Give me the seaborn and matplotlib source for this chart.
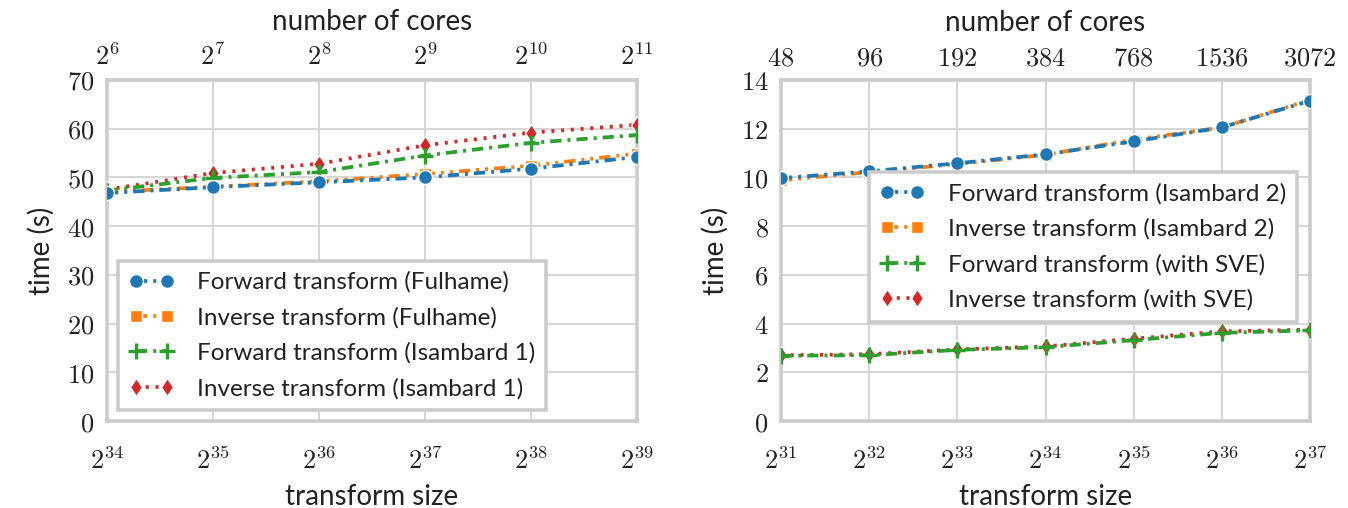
import numpy as np
import pandas as pd
import matplotlib
matplotlib.use("Agg")
import matplotlib.pyplot as plt
import seaborn as sns

# ---------------- data ----------------
left_exp = [34, 35, 36, 37, 38, 39]
left_cores = ["$2^{6}$", "$2^{7}$", "$2^{8}$", "$2^{9}$", "$2^{10}$", "$2^{11}$"]
fwd_fulhame = [46.8, 48.0, 49.0, 50.0, 51.8, 54.2]
inv_fulhame = [47.0, 48.1, 49.2, 50.7, 52.4, 54.9]
fwd_isambard1 = [47.3, 49.9, 51.1, 54.5, 57.1, 58.7]
inv_isambard1 = [47.5, 50.9, 52.8, 56.6, 59.2, 60.8]

right_exp = [31, 32, 33, 34, 35, 36, 37]
right_cores = ["$48$", "$96$", "$192$", "$384$", "$768$", "$1536$", "$3072$"]
fwd_isambard2 = [9.97, 10.25, 10.58, 10.95, 11.48, 12.05, 13.15]
inv_isambard2 = [9.88, 10.22, 10.55, 10.93, 11.55, 12.05, 13.18]
fwd_sve = [2.68, 2.70, 2.92, 3.03, 3.32, 3.62, 3.72]
inv_sve = [2.70, 2.74, 2.94, 3.06, 3.38, 3.68, 3.75]

left_labels = ["Forward transform (Fulhame)", "Inverse transform (Fulhame)",
               "Forward transform (Isambard 1)", "Inverse transform (Isambard 1)"]
right_labels = ["Forward transform (Isambard 2)", "Inverse transform (Isambard 2)",
                "Forward transform (with SVE)", "Inverse transform (with SVE)"]

# ---------------- style ----------------
sns.set_theme(style="whitegrid")
plt.rcParams["font.family"] = ["Lato", "DejaVu Sans"]
plt.rcParams["mathtext.fontset"] = "cm"

colors = sns.color_palette("tab10")[:4]
markers = ["o", "s", "+", "d"]
linestyles = [(0, (3.0, 1.6, 0.8, 1.6)), (0, (3.0, 1.6, 0.8, 1.6, 0.8, 1.6)),
              (0, (3.0, 1.6, 0.8, 1.6)), (0, (0.8, 1.8))]
msizes = [10, 8.5, 11, 9.5]

fig = plt.figure(figsize=(13.48, 5.08), dpi=100)
axL = fig.add_axes([107/1348, 87/508, 530/1348, 341/508])
axR = fig.add_axes([781/1348, 87/508, 529/1348, 341/508])

spine_c = "#cccccc"
txt_c = "#222222"


def draw(ax, exps, series, labels, ylim, yticks, cores, legend_loc):
    xs = [2.0 ** e for e in exps]
    handles = [None] * 4
    for i in reversed(range(4)):
        df = pd.DataFrame({"x": xs, "y": series[i]})
        mec = colors[i] if markers[i] == "+" else "white"
        sns.lineplot(data=df, x="x", y="y", ax=ax, color=colors[i],
                     marker=markers[i], markersize=msizes[i], linewidth=2.7,
                     markeredgecolor=mec, markeredgewidth=(2.4 if markers[i] == "+" else 1.0),
                     label=labels[i], zorder=3 + (4 - i), clip_on=True)
    lines = ax.get_lines()
    for i, ln in zip(reversed(range(4)), lines[:4]):
        ln.set_linestyle(linestyles[i])
        handles[i] = ln
    ax.set_xscale("log", base=2)
    ax.set_xlim(xs[0], xs[-1])
    ax.set_ylim(*ylim)
    ax.set_xticks(xs)
    ax.set_xticklabels([f"$2^{{{e}}}$" for e in exps])
    ax.set_yticks(yticks)
    ax.set_yticklabels([f"${t}$" for t in yticks])
    ax.minorticks_off()
    ax.tick_params(axis="both", length=0, labelsize=19, colors=txt_c)
    ax.tick_params(axis="x", pad=19)
    ax.tick_params(axis="y", pad=9)
    ax.grid(True, color="#d5d5d5", linewidth=1.4)
    for s in ax.spines.values():
        s.set_color(spine_c)
        s.set_linewidth(2.6)
        s.set_visible(True)
    ax.set_xlabel("transform size", fontsize=20, labelpad=7, color=txt_c)
    ax.set_ylabel("time (s)", fontsize=20, labelpad=9, color=txt_c)

    leg = ax.legend(handles=handles, labels=labels, numpoints=2, handlelength=1.85,
                    fontsize=17.5, frameon=True, fancybox=False, framealpha=1.0,
                    edgecolor=spine_c, borderpad=0.45, labelspacing=0.57,
                    handletextpad=0.95, borderaxespad=0.0,
                    loc=legend_loc[0], bbox_to_anchor=legend_loc[1])
    leg.get_frame().set_linewidth(2.6)
    leg.set_zorder(20)
    for t in leg.get_texts():
        t.set_color(txt_c)

    top = ax.twiny()
    top.set_xscale("log", base=2)
    top.set_xlim(ax.get_xlim())
    top.set_xticks(xs)
    top.set_xticklabels(cores)
    top.minorticks_off()
    top.grid(False)
    top.tick_params(axis="x", length=0, labelsize=19, pad=7, colors=txt_c)
    for s in top.spines.values():
        s.set_visible(False)
    top.set_xlabel("number of cores", fontsize=20, labelpad=10, color=txt_c)


draw(axL, left_exp, [fwd_fulhame, inv_fulhame, fwd_isambard1, inv_isambard1],
     left_labels, (0, 70), list(range(0, 71, 10)), left_cores,
     ("lower left", (0.021, 0.032)))
draw(axR, right_exp, [fwd_isambard2, inv_isambard2, fwd_sve, inv_sve],
     right_labels, (0, 14), list(range(0, 15, 2)), right_cores,
     ("upper right", (0.975, 0.730)))

fig.savefig("out.png", dpi=100)
